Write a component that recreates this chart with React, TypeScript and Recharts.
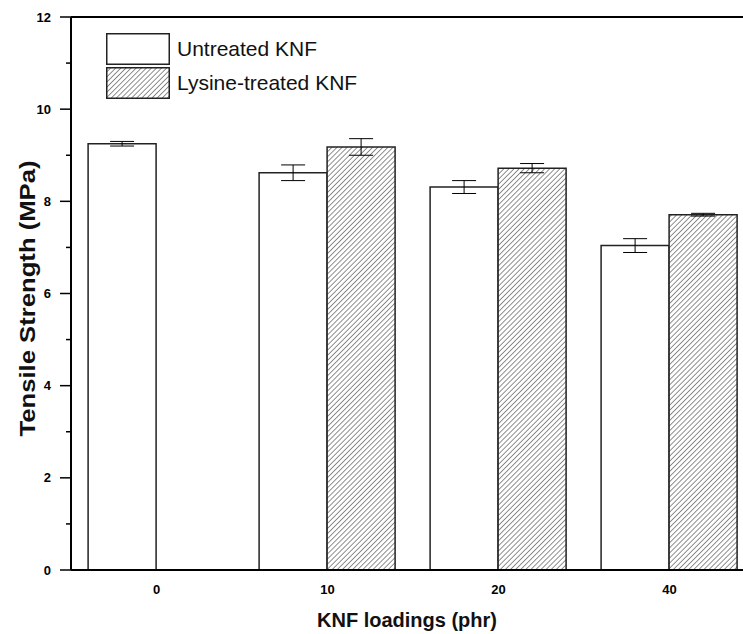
import React from 'react';
import { BarChart, Bar, XAxis, YAxis, ErrorBar, Legend, ReferenceLine, Label } from 'recharts';

const categories = ['0', '10', '20', '40'];
const untreated = [9.25, 8.62, 8.31, 7.04];
const untreatedErr = [0.05, 0.17, 0.14, 0.15];
const treated: (number | null)[] = [null, 9.18, 8.72, 7.71];
const treatedErr: (number | null)[] = [null, 0.18, 0.1, 0.03];
const yTicks = [0, 1, 2, 3, 4, 5, 6, 7, 8, 9, 10, 11, 12];
const seriesNames = ['Untreated KNF', 'Lysine-treated KNF'];
const xTitle = 'KNF loadings (phr)';
const yTitle = 'Tensile Strength (MPa)';

const data = categories.map((c, i) => ({
  cat: c,
  untreated: untreated[i],
  untreatedErr: untreatedErr[i],
  treated: treated[i],
  treatedErr: treatedErr[i],
}));

const FONT = '"Liberation Sans", Arial, sans-serif';

const YTick = (props: any) => {
  const { x, y, payload } = props;
  const v = payload.value;
  const major = v % 2 === 0;
  return (
    <g>
      <line x1={x - (major ? 11 : 5)} x2={x} y1={y} y2={y} stroke="#000" strokeWidth={1.5} />
      {major && (
        <text x={x - 20} y={y} textAnchor="end" dominantBaseline="central" fontSize={13} fontWeight="bold" fontFamily={FONT} fill="#000">
          {v}
        </text>
      )}
    </g>
  );
};

const XTick = (props: any) => {
  const { x, y, payload } = props;
  return (
    <text x={x} y={y + 17} textAnchor="middle" dominantBaseline="central" fontSize={13} fontWeight="bold" fontFamily={FONT} fill="#000">
      {payload.value}
    </text>
  );
};

const LegendContent = () => (
  <div style={{ fontFamily: FONT, fontSize: 21, color: '#111' }}>
    {seriesNames.map((name, i) => (
      <div key={name} style={{ display: 'flex', alignItems: 'center', height: 32, marginBottom: i === 0 ? 2 : 0 }}>
        <svg width={64} height={32} style={{ display: 'block' }}>
          <rect x={0.75} y={0.75} width={62.5} height={30.5} fill={i === 0 ? '#fff' : 'url(#hatch)'} stroke="#222" strokeWidth={1.5} />
        </svg>
        <span style={{ marginLeft: 7, whiteSpace: 'nowrap' }}>{name}</span>
      </div>
    ))}
  </div>
);

export default function App() {
  return (
    <div style={{ position: 'fixed', left: 0, top: 0, width: 743, height: 634, overflow: 'hidden', background: '#fff' }}>
      <svg width={0} height={0} style={{ position: 'absolute' }}>
        <defs>
          <pattern id="hatch" width={3.6} height={3.6} patternUnits="userSpaceOnUse" patternTransform="rotate(45)">
            <rect x={0} y={0} width={3.6} height={3.6} fill="#fff" />
            <line x1={0} y1={0} x2={0} y2={3.6} stroke="#333" strokeWidth={1.1} />
          </pattern>
        </defs>
      </svg>
      <BarChart
        width={770}
        height={634}
        data={data}
        margin={{ top: 17, right: 15, bottom: 34, left: 0 }}
        barCategoryGap="10%"
        barGap={0}
      >
        <XAxis
          dataKey="cat"
          height={30}
          axisLine={{ stroke: '#000', strokeWidth: 2 }}
          tickLine={false}
          tickSize={0}
          tick={<XTick />}
          interval={0}
        >
          <Label
            content={(p: any) => {
              const vb = p.viewBox;
              return (
                <text x={vb.x + vb.width / 2 - 6} y={vb.y + 50} textAnchor="middle" dominantBaseline="central" fontSize={20} fontWeight="bold" fontFamily={FONT} fill="#111">
                  {xTitle}
                </text>
              );
            }}
          />
        </XAxis>
        <YAxis
          width={71}
          domain={[0, 12]}
          ticks={yTicks}
          interval={0}
          axisLine={{ stroke: '#000', strokeWidth: 2 }}
          tickLine={false}
          tickSize={0}
          tickMargin={0}
          tick={<YTick />}
        >
          <Label
            content={(p: any) => {
              const vb = p.viewBox;
              const cy = vb.y + vb.height / 2 + 5;
              return (
                <text x={27} y={cy} transform={`rotate(-90, 27, ${cy})`} textAnchor="middle" dominantBaseline="central" fontSize={22} fontWeight="bold" fontFamily={FONT} fill="#111" textLength={276} lengthAdjust="spacingAndGlyphs">
                  {yTitle}
                </text>
              );
            }}
          />
        </YAxis>
        <ReferenceLine y={12} stroke="#000" strokeWidth={2} />
        <Legend
          layout="vertical"
          align="center"
          verticalAlign="middle"
          content={<LegendContent />}
          wrapperStyle={{ left: 106, top: 33, width: 'auto', height: 'auto' }}
        />
        <Bar dataKey="untreated" name={seriesNames[0]} fill="#fff" stroke="#222" strokeWidth={1.5} isAnimationActive={false}>
          <ErrorBar dataKey="untreatedErr" width={12} stroke="#000" strokeWidth={1} />
        </Bar>
        <Bar dataKey="treated" name={seriesNames[1]} fill="url(#hatch)" stroke="#222" strokeWidth={1.5} isAnimationActive={false}>
          <ErrorBar dataKey="treatedErr" width={12} stroke="#000" strokeWidth={1} />
        </Bar>
      </BarChart>
    </div>
  );
}
